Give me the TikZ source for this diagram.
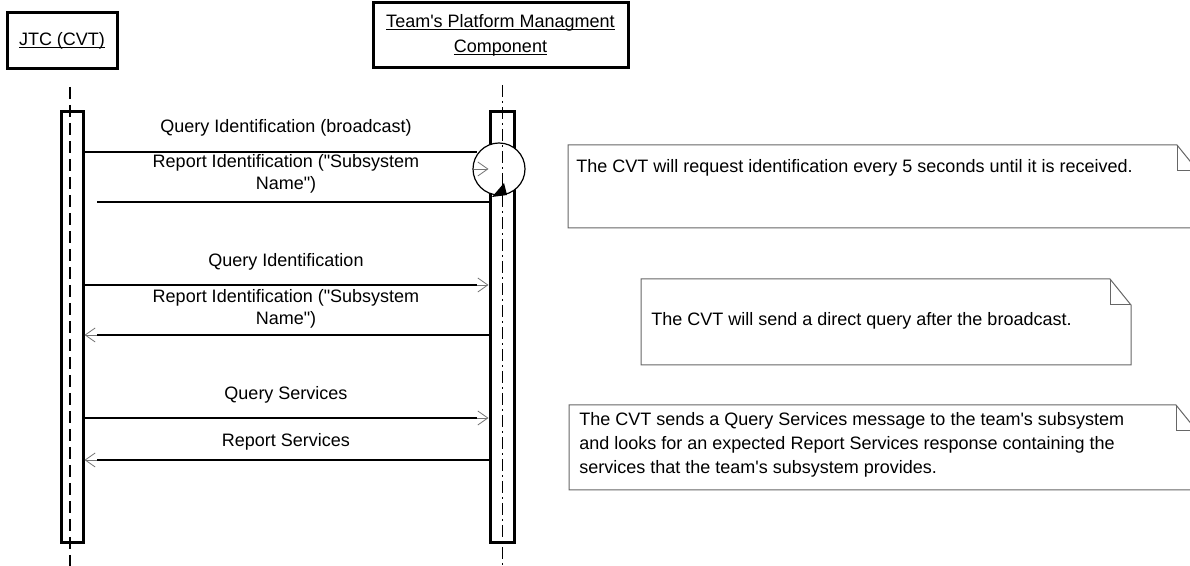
\documentclass[tikz,border=0pt]{standalone}
\usepackage{fontspec}
\setmainfont{Liberation Sans}
\usetikzlibrary{arrows.meta}

\newcommand{\ultext}[1]{\setbox0=\hbox{#1}\leavevmode\rlap{\rule[-1.4pt]{\wd0}{0.55pt}}\box0}

\tikzset{
  actor/.style = {draw, line width=1.5pt, align=center, inner sep=0pt},
  actbar/.style = {draw, line width=1.5pt, fill=white, inner sep=0pt},
  lifeA/.style = {line width=0.9pt, dash pattern=on 6pt off 3pt},
  lifeB/.style = {line width=0.4pt, dash pattern=on 6pt off 2pt on 1pt off 2pt},
  msg/.style = {line width=1.4pt, shorten >=6pt},
  head/.style = {line width=0.4pt, draw=black!55, -{Straight Barb[length=5pt,width=7pt]}},
  lbl/.style = {align=center, inner sep=0pt},
  note/.style = {draw=black!60, line width=0.5pt},
  notetext/.style = {align=left, anchor=west, inner sep=0pt}
}

\begin{document}
\begin{tikzpicture}[x=0.5pt, y=-0.5pt, font=\fontsize{9}{11}\selectfont]
\useasboundingbox (0,0) rectangle (1190,566);
\clip (0,0) rectangle (1190,566);

% actors
\node[actor, minimum width=55pt, minimum height=28pt] (jtc) at (62,41) {\ultext{JTC (CVT)}};
\node[actor, minimum width=127.5pt, minimum height=32.5pt, font=\fontsize{9}{12.5}\selectfont] (team) at (500.5,35.5)
  {\ultext{Team\textquotesingle s Platform Managment}\\\ultext{Component}};

% activation bars
\node[actbar, minimum width=11pt, minimum height=215.5pt] (jtcbar) at (72,327.5) {};
\node[actbar, minimum width=12pt, minimum height=215.5pt] (teambar) at (502,327.5) {};

% loop marker on the team side
\node[circle, draw, line width=0.6pt, fill=white, minimum size=26pt, inner sep=0pt] (loop) at (499,169) {};

% lifelines
\coordinate (jtctop) at (70,87);
\coordinate (jtcbot) at (70,566);
\coordinate (teamtop) at (502,85);
\coordinate (teambot) at (502,566);
\draw[lifeA] (jtctop) -- (jtcbot);
\draw[lifeB] (teamtop) -- (teambot);

% message heights
\coordinate (y1) at (0,152);
\coordinate (y2) at (0,202);
\coordinate (y3) at (0,285);
\coordinate (y4) at (0,335);
\coordinate (y5) at (0,418);
\coordinate (y6) at (0,460);
\coordinate (m1e) at (477,152);
\coordinate (m0s) at (474,169);
\coordinate (m2s) at (97,202);

% broadcast query and first report
\draw[msg, shorten >=0pt] (jtcbar.east |- y1) -- (m1e);
\draw[head] (m0s) -- (loop.center -| teambar.west);
\draw[msg, shorten >=0pt] (m2s) -- (teambar.west |- y2);
\fill (492,197) -- (507,195) -- (504,183) -- cycle;
\node[lbl] (l1) at (286,128) {Query Identification (broadcast)};
\node[lbl] (l2) at (286,174) {Report Identification (\textquotedbl Subsystem\\Name\textquotedbl)};

% direct query
\draw[head] (jtcbar.east |- y3) -- (teambar.west |- y3);
\draw[msg] (jtcbar.east |- y3) -- (teambar.west |- y3);
\node[lbl] (l3) at (286,262) {Query Identification};

\draw[head] (teambar.west |- y4) -- (jtcbar.east |- y4);
\draw[msg] (teambar.west |- y4) -- (jtcbar.east |- y4);
\node[lbl] (l4) at (286,309) {Report Identification (\textquotedbl Subsystem\\Name\textquotedbl)};

% services
\draw[head] (jtcbar.east |- y5) -- (teambar.west |- y5);
\draw[msg] (jtcbar.east |- y5) -- (teambar.west |- y5);
\node[lbl] (l5) at (286,395) {Query Services};

\draw[head] (teambar.west |- y6) -- (jtcbar.east |- y6);
\draw[msg] (teambar.west |- y6) -- (jtcbar.east |- y6);
\node[lbl] (l6) at (286,442) {Report Services};

% notes
\draw[note] (568,145) -- (1177,145) -- (1198,171) -- (1198,228) -- (568,228) -- cycle;
\draw[note] (1177,145) -- (1177,171) -- (1198,171);
\node[notetext] (n1) at (576,168) {The CVT will request identification every 5 seconds until it is received.};

\draw[note] (641,279) -- (1110,279) -- (1131,305) -- (1131,365) -- (641,365) -- cycle;
\draw[note] (1110,279) -- (1110,305) -- (1131,305);
\node[notetext] (n2) at (651,321) {The CVT will send a direct query after the broadcast.};

\draw[note] (569,405) -- (1176,405) -- (1197,431) -- (1197,490) -- (569,490) -- cycle;
\draw[note] (1176,405) -- (1176,431) -- (1197,431);
\node[notetext, font=\fontsize{9}{12}\selectfont] (n3) at (579,445)
  {The CVT sends a Query Services message to the team\textquotesingle s subsystem\\
   and looks for an expected Report Services response containing the\\
   services that the team\textquotesingle s subsystem provides.};
\end{tikzpicture}
\end{document}
